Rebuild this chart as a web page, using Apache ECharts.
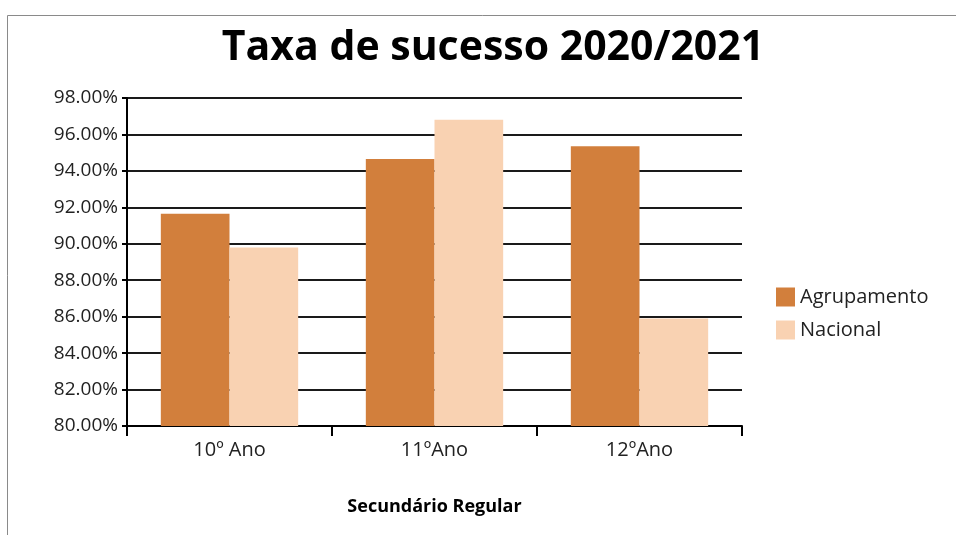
<!DOCTYPE html>
<html>
<head>
<meta charset="utf-8">
<script src="https://cdn.jsdelivr.net/npm/echarts@6/dist/echarts.min.js"></script>
<style>
  html, body { margin: 0; padding: 0; background: #fff; }
  #container { width: 956px; height: 535px; }
</style>
</head>
<body>
<div id="container"></div>
<script>
const categories = ["10º Ano", "11ºAno", "12ºAno"];
const agrupamento = [91.65, 94.65, 95.35];
const nacional = [89.8, 96.8, 85.9];
const yTicks = { min: 80, max: 98, interval: 2 };

const font = "Open Sans";

const myChart = echarts.init(document.getElementById("container"));

const option = {
  backgroundColor: "#FFFFFF",
  animation: false,
  textStyle: { fontFamily: font },
  title: {
    text: "Taxa de sucesso 2020/2021",
    left: 488,
    top: 23,
    textAlign: "center",
    textStyle: {
      fontFamily: font,
      fontSize: 41,
      fontWeight: "bold",
      color: "#000",
    },
  },
  graphic: [
    {
      type: "rect",
      left: 5,
      top: 13,
      shape: { width: 1000, height: 600 },
      style: { fill: "none", stroke: "#8a8a8a", lineWidth: 1 },
      silent: true,
    },
  ],
  legend: {
    orient: "vertical",
    left: 771,
    top: 282,
    itemWidth: 19,
    itemHeight: 19,
    itemGap: 13,
    icon: "rect",
    textStyle: { fontFamily: font, fontSize: 20, color: "#222" },
    data: ["Agrupamento", "Nacional"],
  },
  grid: {
    left: 127,
    right: 214,
    top: 98,
    bottom: 109,
  },
  xAxis: {
    type: "category",
    data: categories,
    name: "Secundário Regular",
    nameLocation: "middle",
    nameGap: 72,
    nameTextStyle: { fontFamily: font, fontSize: 18, fontWeight: "bold", color: "#000" },
    axisLine: { lineStyle: { color: "#000", width: 2 } },
    axisTick: { show: true, length: 10, lineStyle: { color: "#000", width: 2 } },
    axisLabel: { fontSize: 20, color: "#222", margin: 14 },
  },
  yAxis: {
    type: "value",
    min: yTicks.min,
    max: yTicks.max,
    interval: yTicks.interval,
    axisLine: { show: true, lineStyle: { color: "#000", width: 2 } },
    axisTick: { show: true, length: 5, lineStyle: { color: "#000", width: 2 } },
    axisLabel: {
      fontSize: 19,
      color: "#222",
      margin: 9,
      formatter: (v) => v.toFixed(2) + "%",
    },
    splitLine: { lineStyle: { color: "#1a1a1a", width: 2 } },
  },
  series: [
    {
      name: "Agrupamento",
      type: "bar",
      data: agrupamento,
      barGap: "0%",
      barCategoryGap: "33%",
      itemStyle: { color: "#D27F3C" },
    },
    {
      name: "Nacional",
      type: "bar",
      data: nacional,
      itemStyle: { color: "#F9D2B2" },
    },
  ],
};

myChart.setOption(option);
</script>
</body>
</html>
